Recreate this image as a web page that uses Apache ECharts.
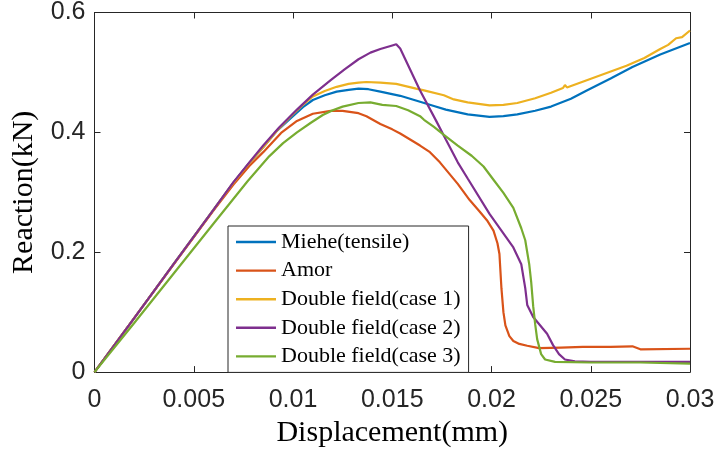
<!DOCTYPE html>
<html>
<head>
<meta charset="utf-8">
<script src="https://cdn.jsdelivr.net/npm/echarts@6/dist/echarts.min.js"></script>
<style>
  html, body { margin: 0; padding: 0; background: #fff; }
  #chart { width: 718px; height: 453px; }
</style>
</head>
<body>
<div id="chart"></div>
<script>
// Reaction force vs. displacement for the five phase-field models.
const seriesNames = ['Miehe(tensile)', 'Amor', 'Double field(case 1)', 'Double field(case 2)', 'Double field(case 3)'];
const seriesColors = ['#0072BD', '#D95319', '#EDB120', '#7E2F8E', '#77AC30'];

const xTicks = [0, 0.005, 0.01, 0.015, 0.02, 0.025, 0.03];
const yTicks = [0, 0.2, 0.4, 0.6];

// [displacement (mm), reaction (kN)]
const miehe = [
  [0, 0], [0.002, 0.09], [0.004, 0.181], [0.006, 0.271], [0.007, 0.316], [0.0078, 0.349],
  [0.0085, 0.375], [0.0092, 0.403], [0.0099, 0.424], [0.0105, 0.442], [0.0110, 0.454],
  [0.0116, 0.462], [0.0122, 0.468], [0.0128, 0.471], [0.0133, 0.473], [0.0138, 0.472],
  [0.0144, 0.468], [0.0154, 0.461], [0.0164, 0.451], [0.0171, 0.444], [0.0177, 0.438],
  [0.0188, 0.430], [0.0199, 0.426], [0.0206, 0.427], [0.0213, 0.430], [0.0222, 0.436],
  [0.0230, 0.443], [0.0240, 0.456], [0.0248, 0.470], [0.0260, 0.490], [0.0271, 0.509],
  [0.0285, 0.530], [0.0300, 0.549]
];

const amor = [
  [0, 0], [0.002, 0.09], [0.004, 0.180], [0.006, 0.270], [0.007, 0.313], [0.0078, 0.344],
  [0.0085, 0.367], [0.0094, 0.399], [0.0102, 0.419], [0.0110, 0.431], [0.0119, 0.436],
  [0.0125, 0.436], [0.0133, 0.432], [0.0137, 0.427], [0.0144, 0.414], [0.0150, 0.405],
  [0.0154, 0.398], [0.0164, 0.378], [0.0169, 0.367], [0.0174, 0.350], [0.0183, 0.314],
  [0.0189, 0.287], [0.0194, 0.268], [0.0198, 0.252], [0.0201, 0.236], [0.0203, 0.215],
  [0.0204, 0.197], [0.0205, 0.140], [0.0206, 0.100], [0.0207, 0.078], [0.0209, 0.060],
  [0.0211, 0.052], [0.0214, 0.047], [0.0218, 0.044], [0.0224, 0.040], [0.0235, 0.041],
  [0.0246, 0.042], [0.0260, 0.042], [0.0271, 0.043], [0.0275, 0.038], [0.0300, 0.039]
];

const doubleCase1 = [
  [0, 0], [0.002, 0.09], [0.004, 0.181], [0.006, 0.271], [0.007, 0.316], [0.0078, 0.349],
  [0.0085, 0.375], [0.0092, 0.403], [0.0099, 0.427], [0.0105, 0.446], [0.0110, 0.460],
  [0.0116, 0.469], [0.0122, 0.476], [0.0128, 0.481], [0.0133, 0.483], [0.0137, 0.484],
  [0.0144, 0.483], [0.0152, 0.481], [0.0162, 0.473], [0.0166, 0.470], [0.0176, 0.462],
  [0.0181, 0.455], [0.0188, 0.450], [0.0199, 0.445], [0.0206, 0.446], [0.0213, 0.449],
  [0.0222, 0.457], [0.0230, 0.466], [0.0236, 0.474], [0.0237, 0.479], [0.0238, 0.475],
  [0.0248, 0.487], [0.0258, 0.499], [0.0268, 0.511], [0.0277, 0.524], [0.0285, 0.539],
  [0.0289, 0.546], [0.0293, 0.557], [0.0296, 0.559], [0.0300, 0.570]
];

const doubleCase2 = [
  [0, 0], [0.002, 0.09], [0.004, 0.181], [0.006, 0.271], [0.007, 0.317], [0.0078, 0.350],
  [0.0085, 0.378], [0.0093, 0.408], [0.0102, 0.438], [0.0110, 0.463], [0.0119, 0.487],
  [0.0126, 0.505], [0.0133, 0.522], [0.0139, 0.533], [0.0144, 0.539], [0.0150, 0.545],
  [0.0152, 0.547], [0.0154, 0.540], [0.0164, 0.470], [0.0172, 0.420], [0.0177, 0.388],
  [0.0183, 0.350], [0.0188, 0.323], [0.0199, 0.264], [0.0205, 0.236], [0.0211, 0.208],
  [0.0215, 0.180], [0.0217, 0.140], [0.0218, 0.112], [0.0221, 0.092], [0.0228, 0.064],
  [0.0231, 0.045], [0.0234, 0.030], [0.0237, 0.021], [0.0242, 0.018], [0.0250, 0.017],
  [0.0300, 0.017]
];

const doubleCase3 = [
  [0, 0], [0.002, 0.082], [0.004, 0.165], [0.006, 0.248], [0.0068, 0.281], [0.0077, 0.318],
  [0.0088, 0.360], [0.0095, 0.382], [0.0102, 0.400], [0.0109, 0.416], [0.0115, 0.429],
  [0.0120, 0.437], [0.0125, 0.443], [0.0133, 0.449], [0.0139, 0.450], [0.0145, 0.446],
  [0.0152, 0.444], [0.0158, 0.437], [0.0164, 0.427], [0.0166, 0.421], [0.0171, 0.409],
  [0.0176, 0.396], [0.0183, 0.378], [0.0190, 0.361], [0.0196, 0.343], [0.0201, 0.321],
  [0.0206, 0.299], [0.0211, 0.274], [0.0215, 0.240], [0.0217, 0.220], [0.0219, 0.180],
  [0.0220, 0.150], [0.0221, 0.110], [0.0222, 0.080], [0.0223, 0.055], [0.0225, 0.030],
  [0.0227, 0.021], [0.0232, 0.017], [0.0250, 0.016], [0.0275, 0.016], [0.0300, 0.014]
];

const seriesData = [miehe, amor, doubleCase1, doubleCase2, doubleCase3];

const axisColor = '#262626';
const tickFont = { fontFamily: 'Liberation Sans', fontSize: 25, color: axisColor };
const serifFont = 'Liberation Serif';

const fmt = v => {
  const hit = xTicks.concat(yTicks).find(t => Math.abs(t - v) < 1e-9);
  return hit === undefined ? '' : String(+hit.toFixed(4));
};

const boxAxis = (extra) => Object.assign({
  type: 'value',
  splitLine: { show: false },
  axisLine: { show: true, onZero: false, lineStyle: { color: axisColor, width: 1 } },
  axisTick: { show: true, inside: true, length: 6, lineStyle: { color: axisColor, width: 1 } }
}, extra);

// plain line swatch for the legend entries
const legendLine = 'path://M0,0 L40,0 L40,2.4 L0,2.4 Z';

const chart = echarts.init(document.getElementById('chart'), null, { renderer: 'canvas' });

chart.setOption({
  animation: false,
  backgroundColor: '#fff',
  grid: { left: 94.5, right: 28, top: 7.5, bottom: 79.3, containLabel: false },
  xAxis: [
    boxAxis({
      position: 'bottom', min: xTicks[0], max: xTicks[xTicks.length - 1], interval: 0.005,
      axisLabel: Object.assign({ margin: 16, formatter: fmt }, tickFont),
      name: 'Displacement(mm)', nameLocation: 'middle', nameGap: 44,
      nameTextStyle: { fontFamily: serifFont, fontSize: 30, color: '#000' }
    }),
    boxAxis({
      position: 'top', min: xTicks[0], max: xTicks[xTicks.length - 1], interval: 0.005,
      axisLabel: { show: false }
    })
  ],
  yAxis: [
    boxAxis({
      position: 'left', min: yTicks[0], max: yTicks[yTicks.length - 1], interval: 0.2,
      axisLabel: Object.assign({ margin: 9, formatter: fmt }, tickFont),
      name: 'Reaction(kN)', nameLocation: 'middle', nameGap: 55,
      nameTextStyle: { fontFamily: serifFont, fontSize: 30, color: '#000' }
    }),
    boxAxis({
      position: 'right', min: yTicks[0], max: yTicks[yTicks.length - 1], interval: 0.2,
      axisLabel: { show: false }
    })
  ],
  legend: {
    orient: 'vertical',
    left: 228,
    top: 226,
    data: seriesNames.map(name => ({ name, icon: legendLine })),
    itemWidth: 40,
    itemHeight: 20,
    itemGap: 6.6,
    padding: [5, 8, 5, 8],
    backgroundColor: '#fff',
    borderColor: axisColor,
    borderWidth: 1,
    borderRadius: 0,
    textStyle: { fontFamily: serifFont, fontSize: 22, color: '#000', lineHeight: 20 }
  },
  series: seriesNames.map((name, i) => ({
    name,
    type: 'line',
    data: seriesData[i],
    symbol: 'none',
    smooth: false,
    color: seriesColors[i],
    lineStyle: { color: seriesColors[i], width: 2.2 }
  }))
});
</script>
</body>
</html>
